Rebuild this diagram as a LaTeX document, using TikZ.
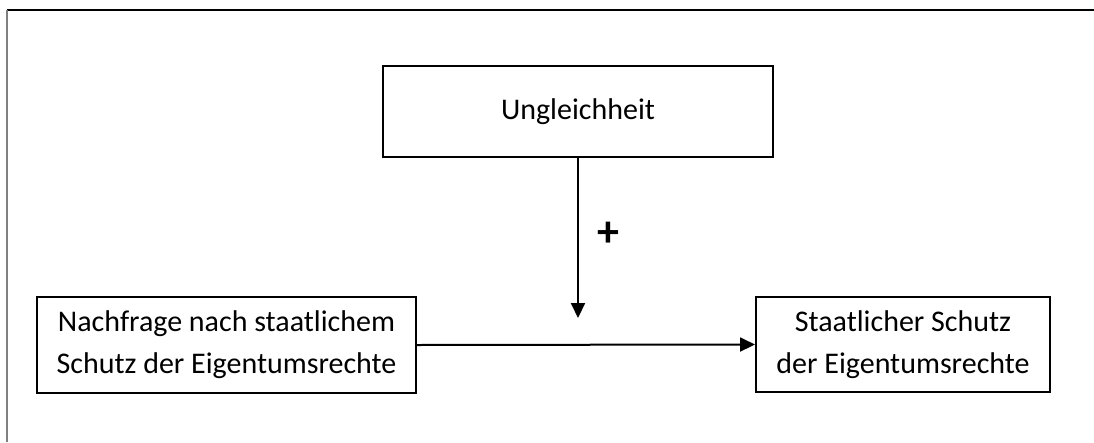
\documentclass[tikz,border=0pt]{standalone}
\usepackage{fontspec}
\setmainfont{Carlito}
\usetikzlibrary{arrows.meta}
\begin{document}
\begin{tikzpicture}[x=1pt,y=-1pt,
  boxnode/.style={draw=black,line width=2pt,align=center,inner sep=0pt,
    font=\fontsize{30}{42}\selectfont},
  conn/.style={line width=2pt,-{Triangle[length=15pt,width=14pt]}}]
\useasboundingbox (0,0) rectangle (1094,442);
\draw[line width=1.6pt,black] (7,10) -- (1094,10);
\draw[line width=1.6pt,gray] (7,10) -- (7,442);
\node[boxnode,minimum width=390pt,minimum height=91pt] (ung) at (578,111.5) {Ungleichheit};
\node[boxnode,minimum width=379pt,minimum height=96pt] (nach) at (226.5,345) {Nachfrage nach staatlichem\\Schutz der Eigentumsrechte};
\node[boxnode,minimum width=294pt,minimum height=95pt] (staat) at (903,344.5) {Staatlicher Schutz\\der Eigentumsrechte};
\coordinate (mid) at (578,318);
\draw[conn] (ung.south -| mid) -- (mid);
\draw[conn] (nach.east) -- (staat.west);
\node[font=\fontsize{44}{48}\selectfont\bfseries] (plus) at (608,234) {+};
\end{tikzpicture}
\end{document}
